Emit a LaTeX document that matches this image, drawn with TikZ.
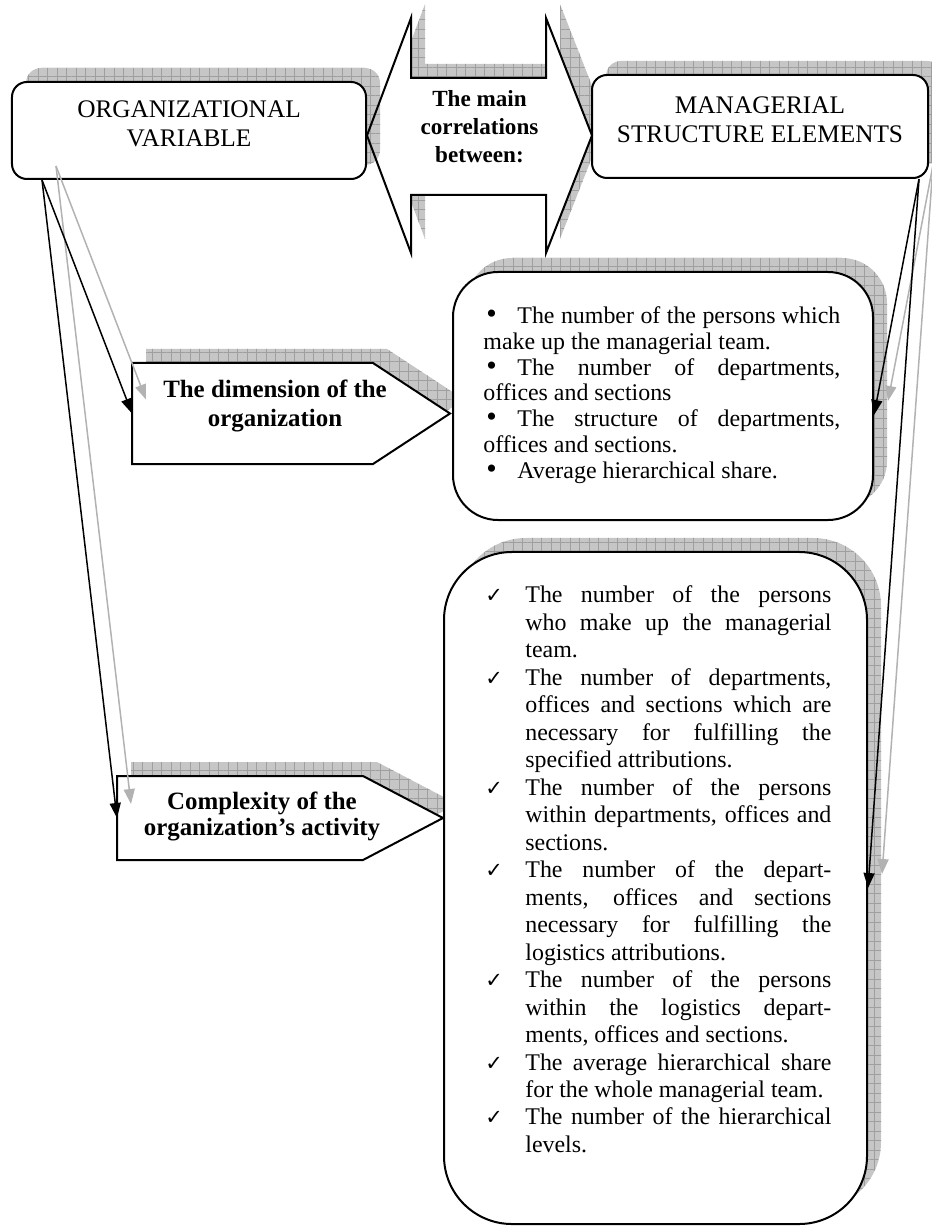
\documentclass[tikz,border=0pt]{standalone}
\usepackage{fontspec}
\setmainfont{Liberation Serif}
\newfontfamily\chkfont{DejaVu Sans}
\usetikzlibrary{arrows.meta,shadows,patterns.meta}

\newcommand{\dotitem}{\makebox[17bp][l]{\hspace{1.5bp}{\fontsize{15}{12}\selectfont\textbullet}}}
\newcommand{\chkitem}{\noindent\llap{\makebox[20bp][l]{\chkfont\fontsize{10.5}{10}\selectfont ✓}}}

\begin{document}
\begin{tikzpicture}[x=0.5bp, y=-0.5bp,
  gridfill/.style={fill=gray!45, postaction={pattern={Hatch[angle=0,distance=4.75bp,line width=0.3bp]}, pattern color=gray!75}},
  gridshadow/.style={
    general shadow={shadow xshift=7bp, shadow yshift=7bp, fill=gray!45},
    general shadow={shadow xshift=7bp, shadow yshift=7bp, pattern={Hatch[angle=0,distance=4.75bp,line width=0.3bp]}, pattern color=gray!75}},
  titlebox/.style={draw, line width=1bp, fill=white, rounded corners=7.5bp, inner sep=0pt, gridshadow},
  listbox/.style={draw, line width=1bp, fill=white, inner sep=0pt, gridshadow},
  titletext/.style={align=center, inner sep=0pt, font=\fontsize{12.7}{14.6}\selectfont},
  signtext/.style={align=center, inner sep=0pt, font=\bfseries\fontsize{12.5}{#1}\selectfont},
  signtext/.default=14,
  listtext/.style={anchor=north west, inner sep=0pt, align=justify},
  outline/.style={draw, line width=1bp, fill=white},
  link/.style={-{Triangle[length=7.5bp,width=5.5bp]}, line width=0.75bp},
  linkshadow/.style={link, draw=gray!60, transform canvas={xshift=7bp,yshift=7bp}}
]
\useasboundingbox (0,0) rectangle (931,1226);

% double arrow: shadow and body first, outline after the headings
\path[gridfill, shift={(14,-14)}] (367,135.5) -- (411,18) -- (411,78) -- (546,78) -- (546,18) -- (592,135.5) -- (546,253) -- (546,195) -- (411,195) -- (411,253) -- cycle;
\fill[white] (367,135.5) -- (411,18) -- (411,78) -- (546,78) -- (546,18) -- (592,135.5) -- (546,253) -- (546,195) -- (411,195) -- (411,253) -- cycle;

\node[titlebox, minimum width=177bp, minimum height=48.5bp] (orgvar) at (189,130.5) {};
\node[titlebox, minimum width=168bp, minimum height=51.5bp] (mgr) at (760,126.5) {};

\draw[line width=1bp] (367,135.5) -- (411,18) -- (411,78) -- (546,78) -- (546,18) -- (592,135.5) -- (546,253) -- (546,195) -- (411,195) -- (411,253) -- cycle;
\node[signtext, font=\bfseries\fontsize{11.6}{14}\selectfont] (corr) at (479.5,126.8) {The main\\correlations\\between:};
\node[titletext] (orgvartxt) at ([yshift=3.25bp]orgvar.center) {ORGANIZATIONAL\\VARIABLE};
\node[titletext] (mgrtxt) at ([yshift=3.45bp]mgr.center) {MANAGERIAL\\STRUCTURE ELEMENTS};

% the two variables
\path[gridfill, shift={(14,-14)}] (132,363) -- (373,363) -- (450,413.5) -- (373,464) -- (132,464) -- cycle;
\draw[outline] (132,363) -- (373,363) -- (450,413.5) -- (373,464) -- (132,464) -- cycle;
\coordinate (dimW) at (132,413.5);
\node[signtext=14.5] (dim) at (275,405.9) {The dimension of the\\organization};

\path[gridfill, shift={(14,-14)}] (117,776) -- (363,776) -- (443,818) -- (363,860) -- (117,860) -- cycle;
\draw[outline] (117,776) -- (363,776) -- (443,818) -- (363,860) -- (117,860) -- cycle;
\coordinate (cplxW) at (117,818);
\node[signtext=13] (cplx) at (262,816.4) {Complexity of the\\organization’s activity};

% structure elements
\node[listbox, minimum width=210bp, minimum height=124bp, rounded corners=22.5bp] (dimbox) at (663,396) {};
\node[listbox, minimum width=211.5bp, minimum height=336bp, rounded corners=34bp] (cplxbox) at (655.5,888) {};

\node[listtext, text width=178.5bp, font=\fontsize{12}{12.9}\selectfont] (dimlist) at (483,306.6) {%
\leftskip=0pt\rightskip=0pt\parfillskip=0pt plus 1fil\hyphenpenalty=10000
\dotitem The number of the persons which\linebreak make up the managerial team.\par
\dotitem The number of departments,\linebreak offices and sections\par
\dotitem The structure of departments,\linebreak offices and sections.\par
\dotitem Average hierarchical share.\par};

\node[listtext, text width=173bp, font=\fontsize{12}{13.8}\selectfont] (cplxlist) at (485,585.3) {%
\leftskip=20bp\rightskip=0pt\parfillskip=0pt plus 1fil\hyphenpenalty=10000
\chkitem The number of the persons\linebreak who make up the managerial\linebreak team.\par
\chkitem The number of departments,\linebreak offices and sections which are\linebreak necessary for fulfilling the\linebreak specified attributions.\par
\chkitem The number of the persons\linebreak within departments, offices and\linebreak sections.\par
\chkitem The number of the depart-\linebreak ments, offices and sections\linebreak necessary for fulfilling the\linebreak logistics attributions.\par
\chkitem The number of the persons\linebreak within the logistics depart-\linebreak ments, offices and sections.\par
\chkitem The average hierarchical share\linebreak for the whole managerial team.\par
\chkitem The number of the hierarchical\linebreak levels.\par};

% connectors with their shadows
\draw[linkshadow] ([xshift=15.5bp]orgvar.south west) -- (dimW);
\draw[linkshadow] ([xshift=15.5bp]orgvar.south west) -- (cplxW);
\draw[linkshadow] ([xshift=-5bp]mgr.south east) -- ([yshift=-9.5bp]dimbox.east);
\draw[linkshadow] ([xshift=-5bp]mgr.south east) -- (cplxbox.east);
\draw[link] ([xshift=15.5bp]orgvar.south west) -- (dimW);
\draw[link] ([xshift=15.5bp]orgvar.south west) -- (cplxW);
\draw[link] ([xshift=-5bp]mgr.south east) -- ([yshift=-9.5bp]dimbox.east);
\draw[link] ([xshift=-5bp]mgr.south east) -- (cplxbox.east);
\end{tikzpicture}
\end{document}
